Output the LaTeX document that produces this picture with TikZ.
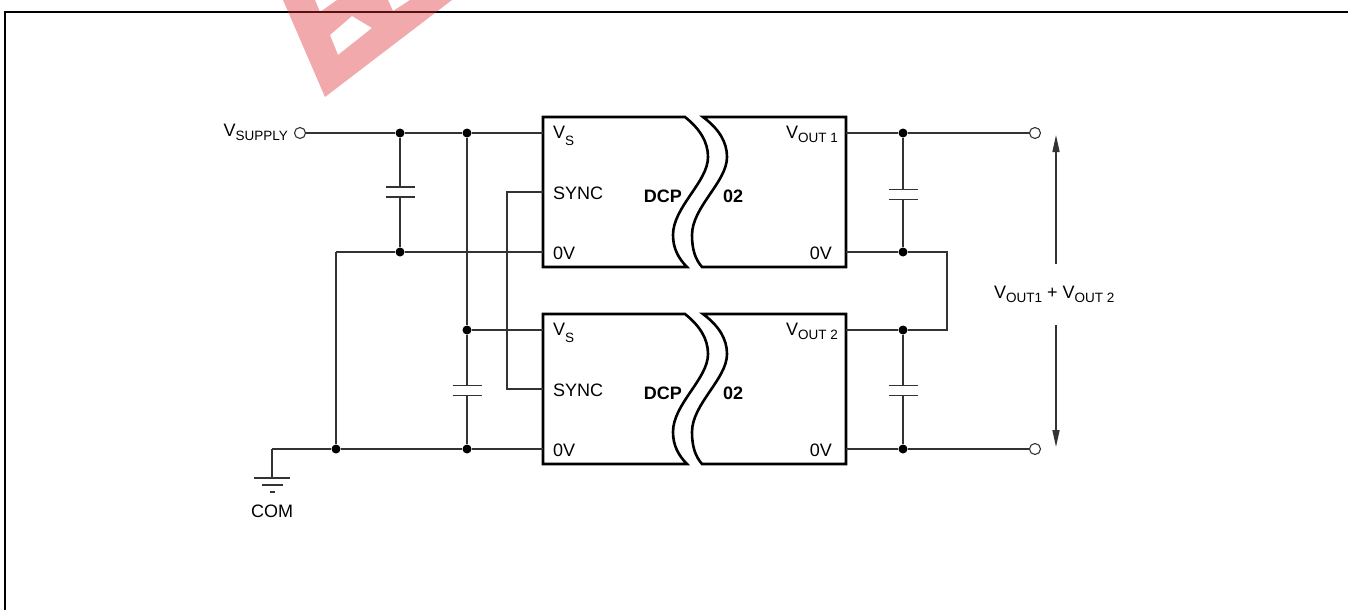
\documentclass[tikz,border=0pt]{standalone}
\usepackage{fontspec}
\setmainfont{Liberation Sans}
\usetikzlibrary{arrows.meta}
\definecolor{wm}{RGB}{220,40,45}
\newcommand\sbs[2][4.5pt]{\raisebox{-#1}{\fontsize{13.5}{14}\selectfont #2}}
\begin{document}
\begin{tikzpicture}[x=1pt,y=-1pt,
 wire/.style={line width=1.5pt, draw=black!80},
 plate/.style={line width=1.8pt, draw=black!80},
 boxl/.style={line width=2.6pt, line join=miter},
 jdot/.style={circle, fill=black, inner sep=0pt, minimum size=9pt},
 term/.style={circle, draw=black!80, line width=1.1pt, fill=white, inner sep=0pt, minimum size=11pt},
 lbl/.style={inner sep=0pt, font=\fontsize{18}{20}\selectfont},
 blbl/.style={inner sep=0pt, font=\fontsize{18}{20}\selectfont\bfseries},
 arr/.style={line width=1.5pt, draw=black!80, -{Triangle[length=17pt,width=7pt]}},
 capv/.pic={\draw[plate] (-14.5,-5) -- (14.5,-5) (-14.5,5) -- (14.5,5);}
]
\useasboundingbox (0,0) rectangle (1348,610);
% frame
\draw[line width=2.2pt] (5,610) -- (5,12) -- (1348,12);

% converter blocks
\foreach \p/\dy/\n in {u/0/1,l/197/2}{
 \begin{scope}[shift={(0,\dy)}]
  \draw[boxl] (685,117) -- (543,117) -- (543,267) -- (687,267)
    .. controls (679,259) and (673,249) .. (673,235)
    .. controls (673,207) and (708,182) .. (708,157)
    .. controls (708,142) and (700,129) .. cycle;
  \draw[boxl] (703,117) -- (846,117) -- (846,267) -- (702,267)
    .. controls (695,259) and (692,249) .. (692,235)
    .. controls (692,207) and (727,182) .. (727,157)
    .. controls (727,142) and (719,129) .. cycle;
  \node[lbl, anchor=base west] (\p-tvs) at (553,138) {V\sbs[7pt]{S}};
  \node[lbl, anchor=base west] (\p-tsync) at (553,199) {SYNC};
  \node[lbl, anchor=base west] (\p-t0v) at (553,259) {0V};
  \node[blbl, anchor=base east] (\p-tdcp) at (682,202) {DCP};
  \node[blbl, anchor=base west] (\p-t02) at (723,202) {02};
  \node[lbl, anchor=base east] (\p-tout) at (838,138) {V\sbs{OUT \n}};
  \node[lbl, anchor=base east] (\p-tr0v) at (832,259) {0V};
  \coordinate (\p-vs) at (543,133);
  \coordinate (\p-sync) at (543,192);
  \coordinate (\p-0v) at (543,252);
  \coordinate (\p-out) at (846,133);
  \coordinate (\p-r0v) at (846,252);
 \end{scope}
}

% left side
\node[term] (vsup) at (300,133) {};
\node[lbl, anchor=base east] (tvsup) at (288,136) {V\sbs{SUPPLY}};
\node[jdot] (j1) at (400,133) {};
\node[jdot] (j2) at (467,133) {};
\node[jdot] (j3) at (400,252) {};
\coordinate (c1) at (336,252);
\node[jdot] (j4) at (336,449) {};
\node[jdot] (j5) at (467,330) {};
\node[jdot] (j6) at (467,449) {};
\coordinate (s1) at (507,192);
\coordinate (s2) at (507,389);
\coordinate (g) at (272,449);
\coordinate (gb) at (272,478);
\pic at (400,192) {capv};
\coordinate (cap1t) at (400,187);
\coordinate (cap1b) at (400,197);
\pic at (467,390.5) {capv};
\coordinate (cap2t) at (467,385.5);
\coordinate (cap2b) at (467,395.5);

\draw[wire] (vsup) -- (j1) -- (j2) -- (u-vs);
\draw[wire] (j1) -- (cap1t);
\draw[wire] (cap1b) -- (j3);
\draw[wire] (c1) -- (j3) -- (u-0v);
\draw[wire] (c1) -- (j4);
\draw[wire] (g) -- (j4) -- (j6) -- (l-0v);
\draw[wire] (g) -- (gb);
\draw[wire] (j2) -- (j5) -- (cap2t);
\draw[wire] (cap2b) -- (j6);
\draw[wire] (j5) -- (l-vs);
\draw[wire] (u-sync) -- (s1) -- (s2) -- (l-sync);

% ground
\draw[plate] (254,478) -- (290,478) (262,485) -- (283,485) (269.5,492) -- (274.5,492);
\node[lbl, anchor=base] (tcom) at (272,517) {COM};

% right side
\node[jdot] (r1) at (903,133) {};
\node[jdot] (r2) at (903,252) {};
\node[jdot] (r3) at (903,330) {};
\node[jdot] (r4) at (903,449) {};
\node[term] (to1) at (1035,133) {};
\node[term] (to2) at (1035,449) {};
\coordinate (k1) at (947,252);
\coordinate (k2) at (947,330);
\pic at (903,194.5) {capv};
\coordinate (cap3t) at (903,189.5);
\coordinate (cap3b) at (903,199.5);
\pic at (903,390.5) {capv};
\coordinate (cap4t) at (903,385.5);
\coordinate (cap4b) at (903,395.5);

\draw[wire] (u-out) -- (r1) -- (to1);
\draw[wire] (r1) -- (cap3t);
\draw[wire] (cap3b) -- (r2);
\draw[wire] (u-r0v) -- (r2) -- (k1) -- (k2) -- (r3) -- (l-out);
\draw[wire] (r3) -- (cap4t);
\draw[wire] (cap4b) -- (r4);
\draw[wire] (l-r0v) -- (r4) -- (to2);

% output voltage
\node[lbl, anchor=base west] (vsum) at (994,298) {V\sbs{OUT1} + V\sbs{OUT 2}};
\coordinate (a1) at (1056,264);
\coordinate (at) at (1056,135);
\coordinate (a2) at (1056,325);
\coordinate (ab) at (1056,447);
\draw[arr] (a1) -- (at);
\draw[arr] (a2) -- (ab);

% watermark
\fill[wm, opacity=0.4, even odd rule] (283,0) -- (325,97) -- (452,0) -- cycle
  (315,0) -- (320,12) -- (337,0) -- cycle
  (330,35) -- (352,16) -- (372,28) -- (338,55) -- cycle
  (388,0) -- (393,11) -- (410,0) -- cycle;
\end{tikzpicture}
\end{document}
